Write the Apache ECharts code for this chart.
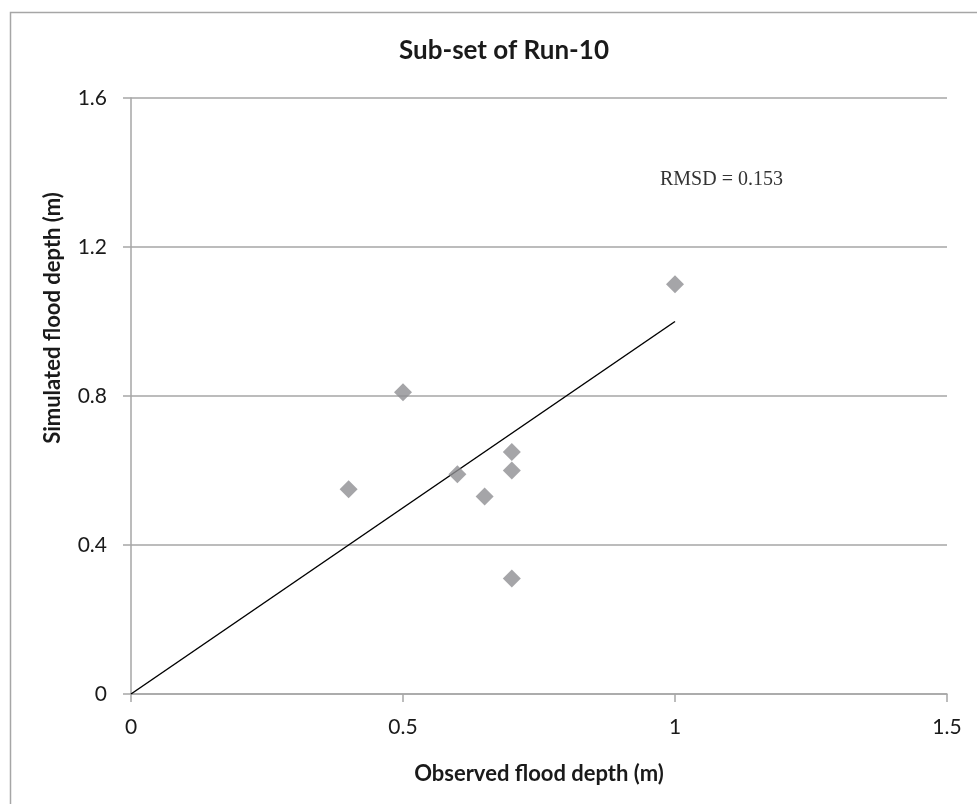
<!DOCTYPE html>
<html>
<head>
<meta charset="utf-8">
<script src="https://cdn.jsdelivr.net/npm/echarts@6/dist/echarts.min.js"></script>
<style>html,body{margin:0;padding:0;background:#fff;}#c{width:977px;height:804px;}</style>
</head>
<body>
<div id="c"></div>
<script>
const observed = [0.4, 0.5, 0.6, 0.65, 0.7, 0.7, 0.7, 1.0];
const simulated = [0.55, 0.81, 0.59, 0.53, 0.65, 0.60, 0.31, 1.10];
const lineX = [0, 1];
const lineY = [0, 1];
const xTicks = [0, 0.5, 1, 1.5];
const yTicks = [0, 0.4, 0.8, 1.2, 1.6];
const titleText = 'Sub-set of Run-10';
const xName = 'Observed flood depth (m)';
const yName = 'Simulated flood depth (m)';
const noteText = 'RMSD = 0.153';

const chart = echarts.init(document.getElementById('c'), null, {renderer: 'canvas'});
const font = 'Lato, "Open Sans", sans-serif';
chart.setOption({
  animation: false,
  backgroundColor: '#fff',
  title: {
    text: titleText, left: 499, textAlign: 'center', top: 33,
    textStyle: {fontFamily: font, fontWeight: 'bold', fontSize: 26, color: '#1a1a1a'}
  },
  grid: {left: 131, right: 30, top: 98, bottom: 110, containLabel: false},
  xAxis: {
    type: 'value', min: xTicks[0], max: xTicks[xTicks.length - 1], interval: 0.5,
    name: xName, nameLocation: 'middle', nameGap: 69,
    nameTextStyle: {fontFamily: font, fontWeight: 'bold', fontSize: 22, color: '#1a1a1a'},
    axisLine: {show: true, onZero: false, lineStyle: {color: '#a6a6a6', width: 1.5}},
    axisTick: {show: true, inside: false, length: 8, lineStyle: {color: '#a6a6a6', width: 1.5}},
    axisLabel: {fontFamily: font, fontSize: 21, color: '#1a1a1a', margin: 23},
    splitLine: {show: false}
  },
  yAxis: {
    type: 'value', min: yTicks[0], max: yTicks[yTicks.length - 1], interval: 0.4,
    axisLine: {show: true, lineStyle: {color: '#a6a6a6', width: 1.5}},
    axisTick: {show: true, inside: false, length: 8, lineStyle: {color: '#a6a6a6', width: 1.5}},
    axisLabel: {fontFamily: font, fontSize: 21, color: '#1a1a1a', margin: 24},
    splitLine: {show: true, lineStyle: {color: '#a6a6a6', width: 1.5}}
  },
  graphic: [
    {type: 'rect', left: 8, top: 10, shape: {width: 1200, height: 1200}, style: {fill: 'none', stroke: '#a6a6a6', lineWidth: 1.5}, silent: true},
    {type: 'text', left: 660, top: 170, style: {text: noteText, font: '20px "Liberation Serif", serif', fill: '#333'}},
    {type: 'text', x: 53, y: 318, rotation: Math.PI / 2,
     style: {text: yName, font: 'bold 22px Lato, sans-serif', fill: '#1a1a1a', textAlign: 'center', textVerticalAlign: 'middle'}}
  ],
  series: [
    {
      type: 'line', data: lineX.map((x, i) => [x, lineY[i]]), showSymbol: false, symbol: 'none',
      lineStyle: {color: '#000', width: 1.5}, z: 2
    },
    {
      type: 'scatter', data: observed.map((x, i) => [x, simulated[i]]),
      symbol: 'diamond', symbolSize: [18, 18],
      itemStyle: {color: '#8e8e92'}, z: 3
    }
  ]
});
</script>
</body>
</html>
